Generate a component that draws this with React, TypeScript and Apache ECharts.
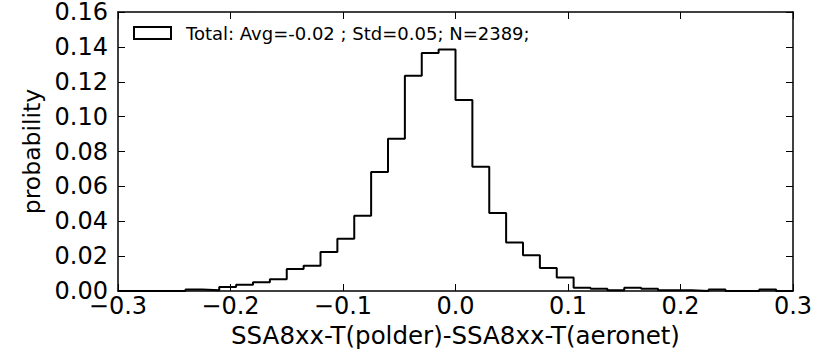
import React, { useEffect, useRef } from "react";
import * as echarts from "echarts";

// Histogram bin left edges (width 0.015) and the right edge of the last bin
const binEdges = [
  -0.3, -0.285, -0.27, -0.255, -0.24, -0.225, -0.21, -0.195, -0.18, -0.165,
  -0.15, -0.135, -0.12, -0.105, -0.09, -0.075, -0.06, -0.045, -0.03, -0.015,
  0.0, 0.015, 0.03, 0.045, 0.06, 0.075, 0.09, 0.105, 0.12, 0.135,
  0.15, 0.165, 0.18, 0.195, 0.21, 0.225, 0.24, 0.255, 0.27, 0.285, 0.3,
];

// Probability per bin (40 bins)
const probabilities = [
  0, 0, 0, 0, 0.0008, 0.0004, 0.0023, 0.0036, 0.005, 0.0068,
  0.0126, 0.0145, 0.0224, 0.0299, 0.0431, 0.0683, 0.0873, 0.1235, 0.1365, 0.1385,
  0.1095, 0.0712, 0.0448, 0.0278, 0.0205, 0.0132, 0.0077, 0.0019, 0.0013, 0.0004,
  0.0019, 0.0013, 0.0004, 0.0004, 0, 0.0008, 0, 0, 0.0008, 0,
];

const xTicks = [-0.3, -0.2, -0.1, 0.0, 0.1, 0.2, 0.3];
const yTicks = [0, 0.02, 0.04, 0.06, 0.08, 0.1, 0.12, 0.14, 0.16];

const seriesName = "Total: Avg=-0.02 ; Std=0.05; N=2389;";
const xLabel = "SSA8xx-T(polder)-SSA8xx-T(aeronet)";
const yLabel = "probability";

const FONT = "DejaVu Sans";

function fmtX(v: number): string {
  if (Math.abs(v) < 1e-9) return "0.0";
  const s = v.toFixed(1);
  return s.replace("-", "\u2212");
}

export default function App() {
  const ref = useRef<HTMLDivElement>(null);

  useEffect(() => {
    if (!ref.current) return;
    const chart = echarts.init(ref.current, null, { renderer: "svg" });

    const data: [number, number][] = [];
    data.push([binEdges[0], 0]);
    for (let i = 0; i < probabilities.length; i++) {
      data.push([binEdges[i], probabilities[i]]);
    }
    data.push([binEdges[binEdges.length - 1], probabilities[probabilities.length - 1]]);
    data.push([binEdges[binEdges.length - 1], 0]);

    const xMin = xTicks[0];
    const xMax = xTicks[xTicks.length - 1];
    const yMin = yTicks[0];
    const yMax = yTicks[yTicks.length - 1];

    const common = {
      axisLine: { show: true, onZero: false, lineStyle: { color: "#000", width: 1.5 } },
      axisTick: { show: true, inside: true, length: 7, lineStyle: { color: "#000", width: 1 } },
      splitLine: { show: false },
    };

    chart.setOption({
      animation: false,
      backgroundColor: "#fff",
      grid: { left: 118, right: 32, top: 7, bottom: 66, containLabel: false },
      legend: {
        show: true,
        left: 133,
        top: 24,
        padding: 0,
        itemWidth: 37,
        itemHeight: 12,
        icon: "rect",
        data: [
          {
            name: seriesName,
            icon: "rect",
            itemStyle: { color: "#fff", borderColor: "#000", borderWidth: 2 },
          },
        ],
        textStyle: { fontFamily: FONT, fontSize: 18, color: "#000", padding: [0, 0, 0, 10] },
      },
      xAxis: [
        {
          type: "value",
          min: xMin,
          max: xMax,
          interval: 0.1,
          ...common,
          axisLabel: {
            show: true,
            margin: 3,
            fontFamily: FONT,
            fontSize: 24,
            color: "#000",
            formatter: (v: number) => fmtX(v),
          },
          name: xLabel,
          nameLocation: "middle",
          nameGap: 31,
          nameTextStyle: { fontFamily: FONT, fontSize: 24.5, color: "#000" },
        },
        {
          type: "value",
          position: "top",
          min: xMin,
          max: xMax,
          interval: 0.1,
          ...common,
          axisLabel: { show: false },
        },
      ],
      yAxis: [
        {
          type: "value",
          min: yMin,
          max: yMax,
          interval: 0.02,
          ...common,
          axisLabel: {
            show: true,
            margin: 10,
            fontFamily: FONT,
            fontSize: 24,
            color: "#000",
            formatter: (v: number) => v.toFixed(2),
          },
          name: yLabel,
          nameLocation: "middle",
          nameGap: 74,
          nameTextStyle: { fontFamily: FONT, fontSize: 23.5, color: "#000" },
        },
        {
          type: "value",
          position: "right",
          min: yMin,
          max: yMax,
          interval: 0.02,
          ...common,
          axisLabel: { show: false },
        },
      ],
      series: [
        {
          name: seriesName,
          type: "line",
          step: "end",
          data,
          showSymbol: false,
          symbol: "none",
          lineStyle: { color: "#000", width: 2 },
          itemStyle: { color: "#fff", borderColor: "#000" },
          clip: true,
        },
      ],
    });

    return () => chart.dispose();
  }, []);

  return <div ref={ref} style={{ width: 825, height: 357, position: "absolute", left: 0, top: 0 }} />;
}
